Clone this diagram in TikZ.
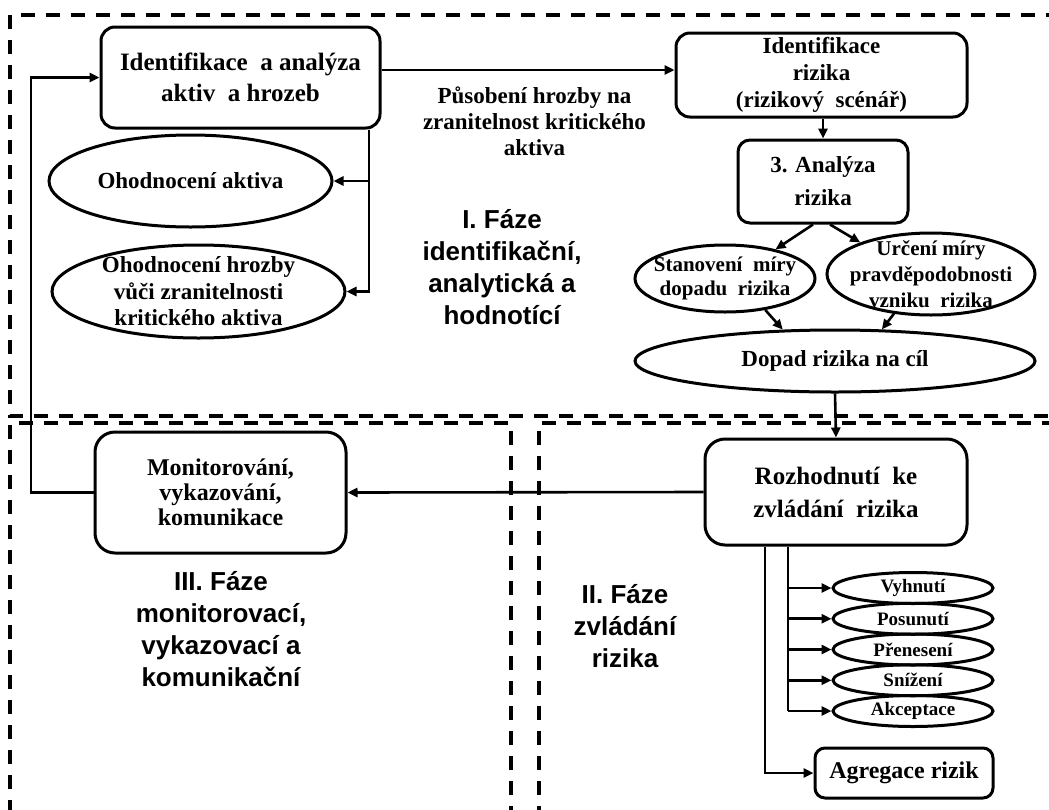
\documentclass[tikz,border=0pt]{standalone}
\usepackage{fontspec}
\setmainfont{Liberation Serif}
\newfontfamily\arialfont{Liberation Sans}
\usetikzlibrary{shapes.geometric,arrows.meta}
\begin{document}
\begin{tikzpicture}[x=1pt,y=-1pt,
  box/.style={draw,line width=3pt,rounded corners=14pt,inner sep=0pt,align=center},
  ell/.style={draw,ellipse,line width=3pt,inner sep=0pt},
  txt/.style={inner sep=0pt,align=center},
  arr/.style={line width=2.6pt,-{Triangle[length=10pt,width=9pt]}},
  ln/.style={line width=2.6pt},
  frame/.style={line width=3.5pt,dash pattern=on 14pt off 11pt},
  phase/.style={inner sep=0pt,align=center,font=\arialfont\bfseries\fontsize{26}{32}\selectfont}
]
\useasboundingbox (0,0) rectangle (1049,809);
\clip (0,0) rectangle (1049,809);

% frames
\draw[frame] (1060,15) -- (10,15) -- (10,416) -- (1060,416);
\draw[frame] (511,820) -- (511,423) -- (10,423) -- (10,820);
\draw[frame] (539,820) -- (539,423) -- (1060,423);

% top phase
\node[box,minimum width=279pt,minimum height=101pt,font=\bfseries\fontsize{25}{31}\selectfont] (A) at (240.5,77.5) {Identifikace\ \ a analýza\\aktiv\ \ a hrozeb};
\node[box,minimum width=291pt,minimum height=84pt,font=\bfseries\fontsize{23}{27}\selectfont] (B) at (821.5,75) {Identifikace\\rizika\\(rizikový\ \ scénář)};
\node[txt,font=\bfseries\fontsize{23}{26}\selectfont] (lab) at (534.5,121) {Působení hrozby na\\zranitelnost kritického\\aktiva};
\node[box,rounded corners=12pt,minimum width=170pt,minimum height=83pt,font=\bfseries\fontsize{23}{33}\selectfont] (C) at (823,181.5) {3. Analýza\\rizika};

\node[ell,minimum width=180pt,minimum height=67pt] (D) at (725,278.5) {};
\node[txt,font=\bfseries\fontsize{21}{24}\selectfont] (Dt) at (D.center) {Stanovení\ \ míry\\dopadu\ \ rizika};
\node[ell,minimum width=208pt,minimum height=82pt] (E) at (931,274) {};
\node[txt,font=\bfseries\fontsize{21}{26}\selectfont] (Et) at (E.center) {Určení míry\\pravděpodobnosti\\vzniku\ \ rizika};
\node[ell,minimum width=400pt,minimum height=62pt] (F) at (835,361) {};
\node[txt,font=\bfseries\fontsize{23}{26}\selectfont] (Ft) at (F.center) {Dopad rizika na cíl};

\node[ell,minimum width=283pt,minimum height=92pt] (E1) at (190.5,181) {};
\node[txt,font=\bfseries\fontsize{23}{26}\selectfont] (E1t) at (E1.center) {Ohodnocení aktiva};
\node[ell,minimum width=293pt,minimum height=93pt] (E2) at (198.5,291.5) {};
\node[txt,font=\bfseries\fontsize{23}{26.5}\selectfont] (E2t) at (E2.center) {Ohodnocení hrozby\\vůči zranitelnosti\\kritického aktiva};

\node[phase] (P1) at (502,267.5) {I. Fáze\\identifikační,\\analytická a\\hodnotící};

% bottom
\node[box,rounded corners=20pt,minimum width=251pt,minimum height=121pt,font=\bfseries\fontsize{24}{25}\selectfont] (M) at (220.5,492.5) {Monitorování,\\vykazování,\\komunikace};
\node[box,rounded corners=20pt,minimum width=262pt,minimum height=106pt,font=\bfseries\fontsize{25}{33}\selectfont] (G) at (836,492) {Rozhodnutí\ \ ke\\zvládání\ \ rizika};

\node[phase] (P3) at (221,629) {III. Fáze\\monitorovací,\\vykazovací a\\komunikační};
\node[phase] (P2) at (625,626) {II. Fáze\\zvládání\\rizika};

\foreach \n/\t/\y in {S1/Vyhnutí/588,S2/Posunutí/618.75,S3/Přenesení/649.5,S4/Snížení/680.25,S5/Akceptace/711}{
  \node[ell,minimum width=160pt,minimum height=31pt,font=\bfseries\fontsize{19}{21}\selectfont] (\n) at (913,\y) {\t};
}
\node[box,rounded corners=10pt,minimum width=178pt,minimum height=50pt,font=\bfseries\fontsize{24}{26}\selectfont] (AG) at (904,773) {Agregace rizik};

% connectors
\coordinate (ab) at (0,70);
\draw[arr] (A.east |- ab) -- (B.west |- ab);
\draw[arr] (C.north |- B.south) -- (C.north);
\draw[arr] ([xshift=-10pt]C.south) -- (D.30);
\draw[arr] ([xshift=7pt]C.south) -- (E.156);
\draw[arr] (D.-38) -- (F.149);
\draw[arr] (E.227) -- (F.34);
\draw[arr] (F.south) -- (G.north);
\draw[arr] (G.west) -- (M.east);

\coordinate (av) at (369,0);
\draw[arr] (A.south -| av) |- (E2.east);
\draw[arr] (E1.east -| av) -- (E1.east);

\coordinate (fb) at (31,0);
\draw[arr] (M.west) -- (M.west -| fb) -- (A.west -| fb) -- (A.west);

\coordinate (g1) at (788,0);
\coordinate (g2) at (765,0);
\draw[ln] (G.south -| g1) -- (S5.west -| g1);
\foreach \n in {S1,S2,S3,S4,S5}{
  \draw[arr] (\n.west -| g1) -- (\n.west);
}
\draw[arr] (G.south -| g2) |- (AG.west);
\end{tikzpicture}
\end{document}
